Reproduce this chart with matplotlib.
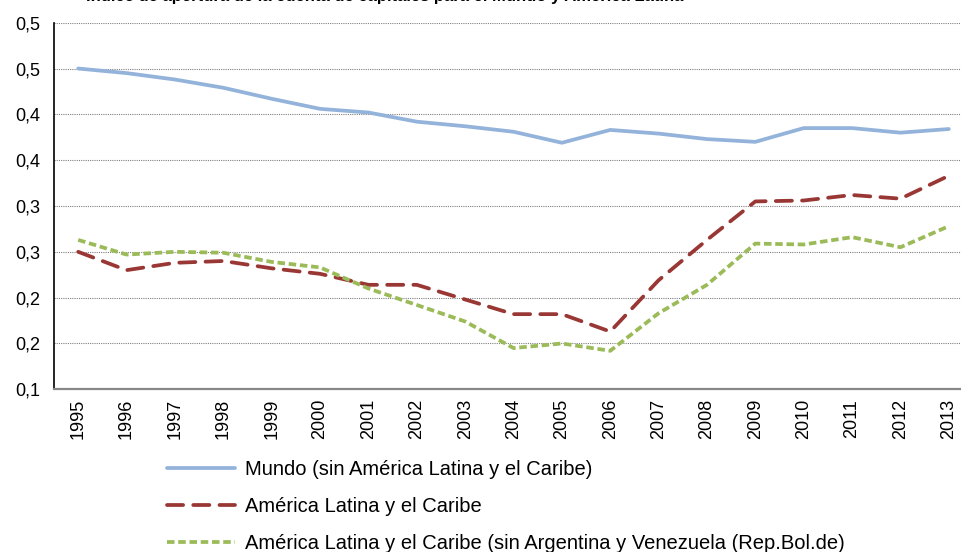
import matplotlib
matplotlib.use("Agg")
import matplotlib.pyplot as plt
import numpy as np

plt.rcParams['font.family'] = ['Liberation Sans', 'DejaVu Sans']

years = [str(y) for y in range(1995, 2014)]
mundo = [0.450, 0.445, 0.438, 0.429, 0.417, 0.406, 0.402, 0.392, 0.387, 0.381,
         0.369, 0.383, 0.379, 0.373, 0.370, 0.385, 0.385, 0.380, 0.384]
alc = [0.250, 0.230, 0.238, 0.240, 0.232, 0.226, 0.214, 0.214, 0.198, 0.182,
       0.182, 0.163, 0.219, 0.263, 0.305, 0.306, 0.312, 0.308, 0.333]
alc_sin = [0.263, 0.247, 0.250, 0.249, 0.239, 0.233, 0.210, 0.192, 0.174, 0.145,
           0.150, 0.142, 0.183, 0.214, 0.259, 0.258, 0.266, 0.255, 0.278]
series_labels = ["Mundo (sin América Latina y el Caribe)",
                 "América Latina y el Caribe",
                 "América Latina y el Caribe (sin Argentina y Venezuela (Rep.Bol.de)"]
yticks = [0.10, 0.15, 0.20, 0.25, 0.30, 0.35, 0.40, 0.45, 0.50]
ytick_labels = ["0,1", "0,2", "0,2", "0,3", "0,3", "0,4", "0,4", "0,5", "0,5"]
title = "Índice de apertura de la cuenta de capitales para el Mundo y América Latina"

W, H = 962, 552
fig = plt.figure(figsize=(W / 100, H / 100), dpi=100)
ax = fig.add_axes([54 / W, 1 - 389.3 / H, (973 - 54) / W, (389.3 - 22.7) / H])

x = np.arange(len(years))
lw = 2.7
ax.plot(x, mundo, color='#93B3DA', lw=lw, solid_capstyle='round', label=series_labels[0])
ax.plot(x, alc, color='#993735', lw=lw, dashes=(4.3, 2.7), dash_capstyle='round',
        label=series_labels[1])
ax.plot(x, alc_sin, color='#9BBB59', lw=lw, dashes=(2.0, 1.0), dash_capstyle='butt',
        label=series_labels[2])

ax.set_xlim(-0.5, len(years) - 0.5)
ax.set_ylim(0.10, 0.50)
ax.set_yticks(yticks)
ax.set_yticklabels(ytick_labels, fontsize=13)
ax.set_xticks(x)
ax.set_xticklabels(years, rotation=90, fontsize=13)
ax.tick_params(axis='x', length=0, pad=7)
ax.tick_params(axis='y', length=0, pad=10)

ax.yaxis.grid(True, color='#808080', linestyle=(0, (1, 1)), lw=0.8)
ax.set_axisbelow(True)
for s in ['top', 'right']:
    ax.spines[s].set_visible(False)
ax.spines['left'].set_color('black')
ax.spines['left'].set_linewidth(1.2)
ax.spines['bottom'].set_color('#878787')
ax.spines['bottom'].set_linewidth(1.6)

fig.text(86 / W, 1 - 1.0 / H, title, fontsize=12, fontweight='bold', ha='left',
         va='baseline')

leg = fig.legend(loc='upper left', bbox_to_anchor=(167 / W, 1 - 460 / H), frameon=False,
                 fontsize=14.5, handlelength=3.38, handletextpad=0.5, labelspacing=0.9,
                 borderpad=0, borderaxespad=0)

fig.savefig("out.png", dpi=100)
